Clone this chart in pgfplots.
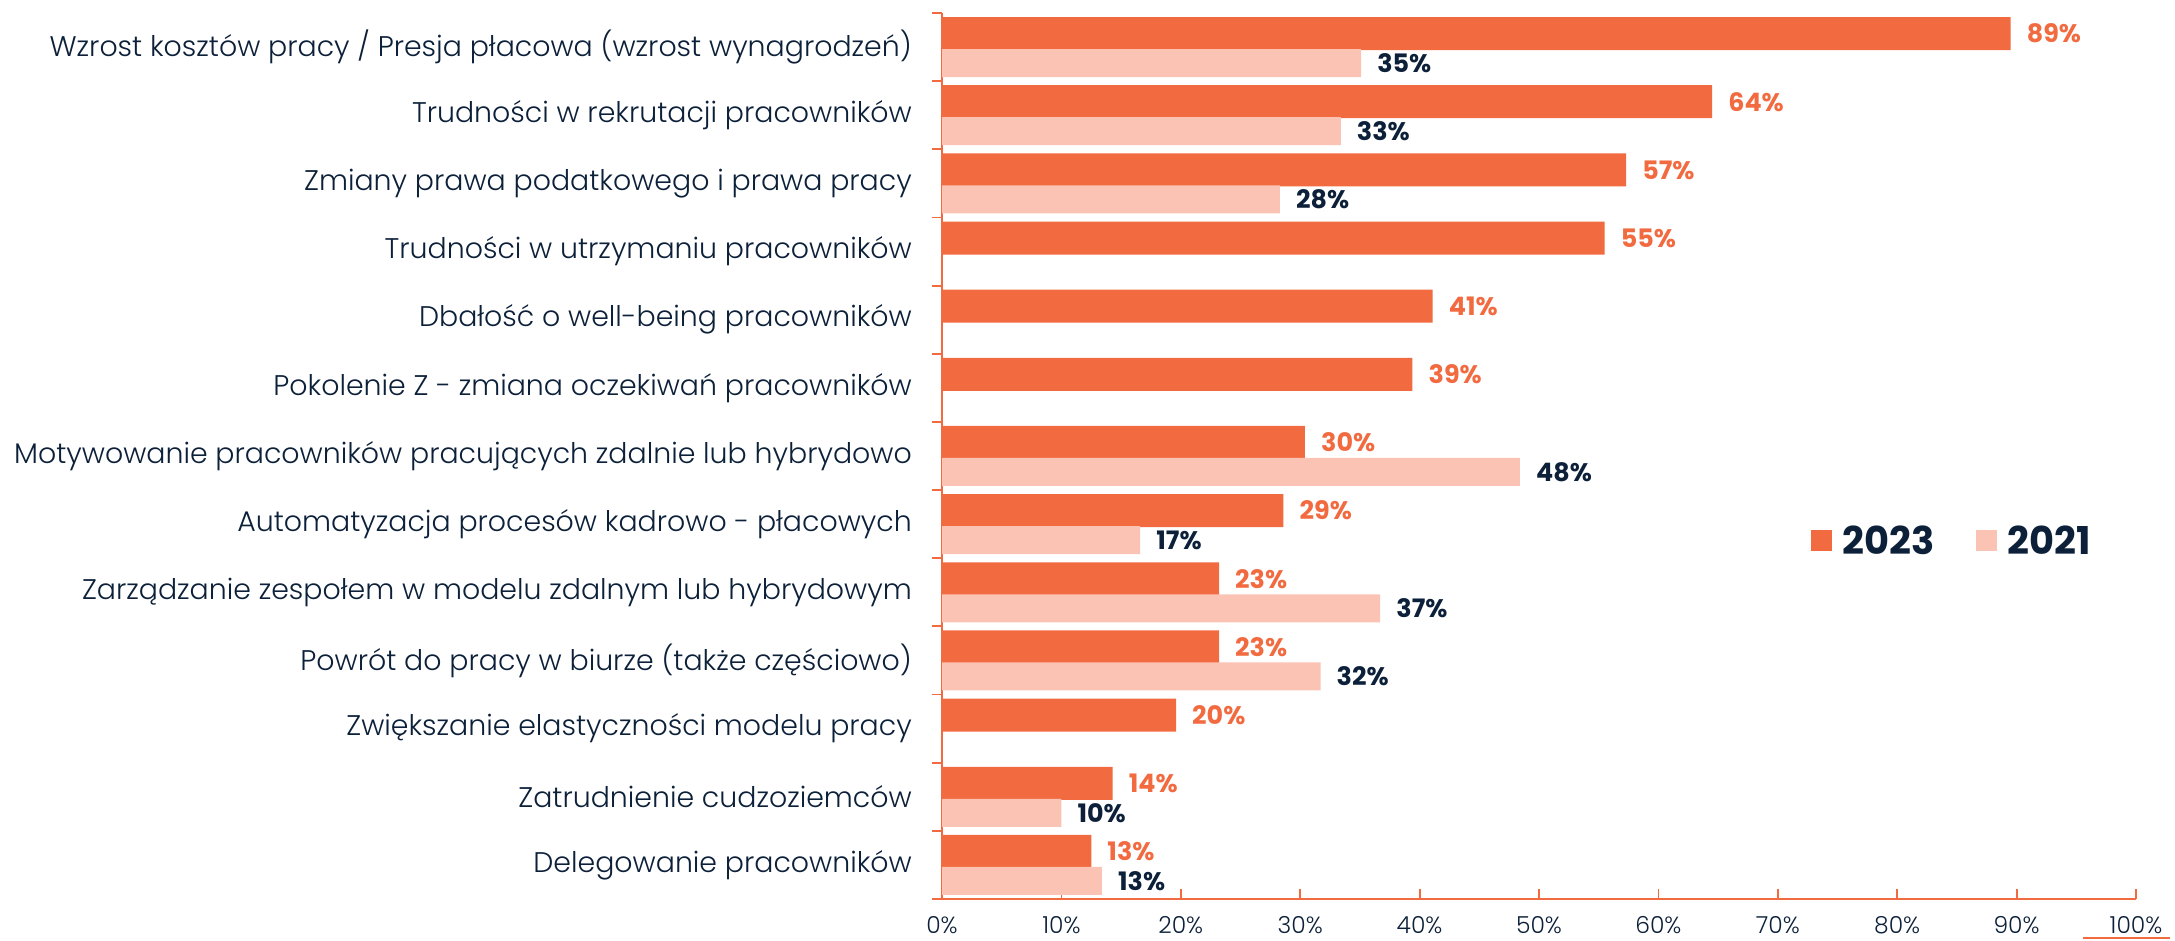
\documentclass[border=0pt]{standalone}
\usepackage{fontspec}
\setmainfont{Poppins Light}[BoldFont={Poppins Bold}]
\usepackage{pgfplots}
\pgfplotsset{compat=1.18}
\definecolor{c23}{HTML}{F26A3F}
\definecolor{c21}{HTML}{FAC3B4}
\definecolor{navy}{HTML}{0C2039}
\begin{document}
\begin{tikzpicture}
\path[use as bounding box] (0,0) rectangle (2175bp,941bp);
\begin{axis}[
    at={(942bp,42bp)}, anchor=south west,
    scale only axis, width=1194bp, height=886bp,
    xbar,
    xmin=0, xmax=100, ymin=-0.5, ymax=12.5,
    axis x line*=bottom, axis y line*=left,
    axis line style={c23, line width=1.5bp},
    /pgf/number format/assume math mode=true,
    xtick={0,10,...,100},
    xticklabel={\pgfmathprintnumber{\tick}\%},
    xticklabel style={font=\fontsize{23.5}{26}\selectfont, text=navy, inner sep=0pt, yshift=-17bp},
    ytick={-0.5,0.5,...,12.5},
    yticklabels={},
    extra y ticks={0,...,12},
    extra y tick labels={
        Delegowanie pracowników,
        Zatrudnienie cudzoziemców,
        Zwiększanie elastyczności modelu pracy,
        Powrót do pracy w biurze (także częściowo),
        Zarządzanie zespołem w modelu zdalnym lub hybrydowym,
        Automatyzacja procesów kadrowo - płacowych,
        Motywowanie pracowników pracujących zdalnie lub hybrydowo,
        Pokolenie Z - zmiana oczekiwań pracowników,
        Dbałość o well-being pracowników,
        Trudności w utrzymaniu pracowników,
        Zmiany prawa podatkowego i prawa pracy~,
        Trudności w rekrutacji pracowników,
        Wzrost kosztów pracy / Presja płacowa (wzrost wynagrodzeń)~},
    extra y tick style={major tick length=0pt,
        yticklabel style={font=\fontsize{28.5}{32}\selectfont, text=navy, anchor=east, inner sep=0pt, xshift=-30bp}},
    tick align=inside,
    major tick length=10bp,
    tick style={c23, line width=1.8bp},
    y tick style={xshift=-10bp},
    point meta=explicit symbolic,
    nodes near coords={\pgfplotspointmeta\%},
    nodes near coords style={anchor=west, inner sep=0pt, xshift=16bp, font=\bfseries\fontsize{25.5}{28}\selectfont},
    legend style={at={(0.725,0.404)}, anchor=west, draw=none, fill=none,
        font=\bfseries\fontsize{38.5}{42}\selectfont, text=navy,
        /tikz/every even column/.append style={column sep=39bp}},
    legend columns=2,
    legend image code/.code={\fill[#1] (0bp,-10bp) rectangle (21bp,11bp); \path (30bp,0bp);},
]
\addplot[fill=c23, draw=none, bar width=33bp, bar shift=13.5bp,
    nodes near coords style={text=c23}] coordinates {
    (89.5,12) [89] (64.5,11) [64] (57.3,10) [57] (55.5,9) [55]
    (41.1,8) [41] (39.4,7) [39] (30.4,6) [30] (28.6,5) [29]
    (23.2,4) [23] (23.2,3) [23] (19.6,2) [20] (14.3,1) [14] (12.5,0) [13]
};
\addlegendentry{2023}
\addplot[fill=c21, draw=none, bar width=28bp, bar shift=-16bp,
    nodes near coords style={text=navy}] coordinates {
    (35.1,12) [35] (33.4,11) [33] (28.3,10) [28] (48.4,6) [48]
    (16.6,5) [17] (36.7,4) [37] (31.7,3) [32] (10.0,1) [10] (13.4,0) [13]
};
\addlegendentry{2021}
\end{axis}
\draw[c23, line width=2bp] (2083bp,3bp) -- (2170bp,3bp);
\end{tikzpicture}
\end{document}
